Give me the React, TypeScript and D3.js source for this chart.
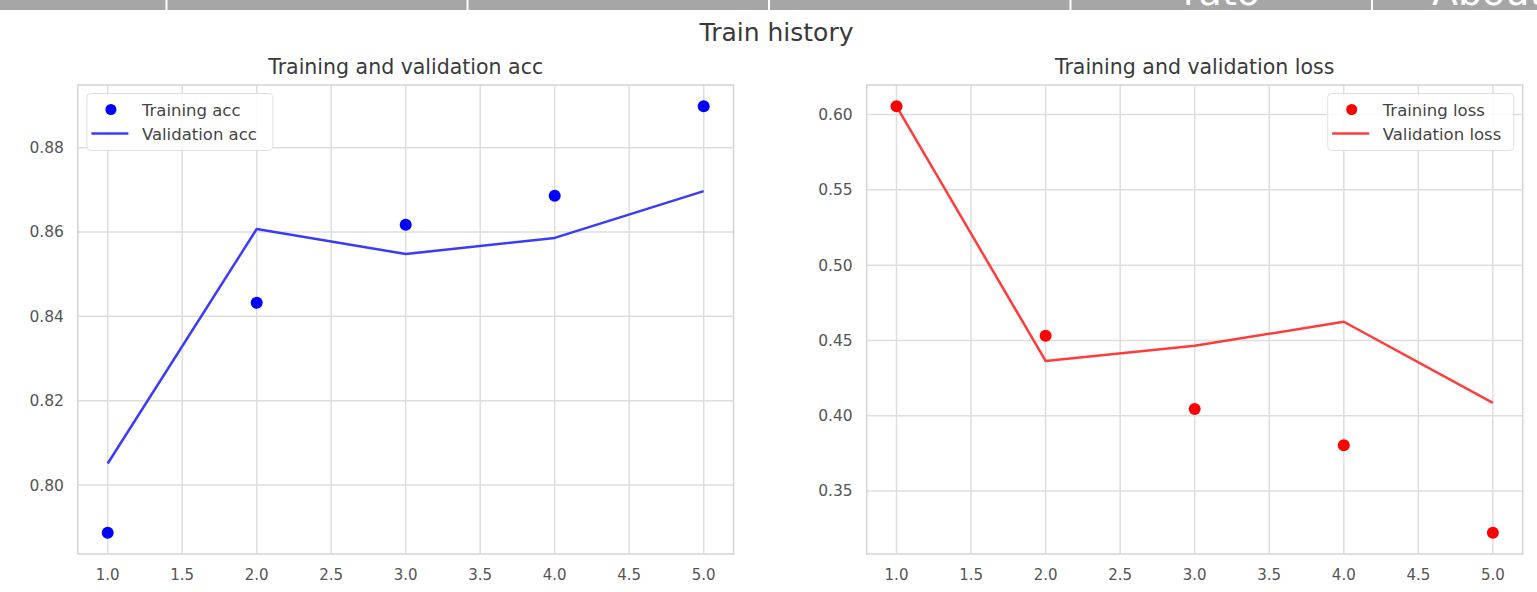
import React from "react";
import * as d3 from "d3";

const epochs = [1, 2, 3, 4, 5];
const trainAcc = [0.7887, 0.8432, 0.8617, 0.8686, 0.8898];
const valAcc = [0.8051, 0.8607, 0.8548, 0.8586, 0.8697];
const trainLoss = [0.6055, 0.4531, 0.4045, 0.3803, 0.3223];
const valLoss = [0.6055, 0.4364, 0.4464, 0.4624, 0.4085];
const xTicks = [1.0, 1.5, 2.0, 2.5, 3.0, 3.5, 4.0, 4.5, 5.0];
const accTicks = [0.8, 0.82, 0.84, 0.86, 0.88];
const lossTicks = [0.35, 0.4, 0.45, 0.5, 0.55, 0.6];
const navSeparators = [166.5, 467.5, 769, 1070.5, 1372];

const FONT = "'DejaVu Sans', sans-serif";

function pad(lo: number, hi: number): [number, number] {
  const m = (hi - lo) * 0.05;
  return [lo - m, hi + m];
}

type PanelProps = {
  left: number;
  right: number;
  top: number;
  bottom: number;
  title: string;
  train: number[];
  val: number[];
  yTicks: number[];
  dotColor: string;
  lineColor: string;
  trainLabel: string;
  valLabel: string;
  legendRight: boolean;
};

function Panel(p: PanelProps) {
  const all = [...p.train, ...p.val];
  const x = d3.scaleLinear().domain(pad(1, 5)).range([p.left, p.right]);
  const y = d3
    .scaleLinear()
    .domain(pad(d3.min(all)!, d3.max(all)!))
    .range([p.bottom, p.top]);
  const line = d3
    .line<number>()
    .x((_, i) => x(epochs[i]))
    .y((d) => y(d));
  const grid = "#dedede";
  const lw = 186;
  const lx = p.legendRight ? p.right - 9 - lw : p.left + 9;
  const ly = p.top + 8.5;
  return (
    <g>
      <rect x={p.left} y={p.top} width={p.right - p.left} height={p.bottom - p.top} fill="#fff" />
      {xTicks.map((t) => (
        <line key={"gx" + t} x1={x(t)} x2={x(t)} y1={p.top} y2={p.bottom} stroke={grid} strokeWidth={1.5} />
      ))}
      {p.yTicks.map((t) => (
        <line key={"gy" + t} x1={p.left} x2={p.right} y1={y(t)} y2={y(t)} stroke={grid} strokeWidth={1.5} />
      ))}
      <rect x={p.left} y={p.top} width={p.right - p.left} height={p.bottom - p.top} fill="none" stroke="#d4d4d4" strokeWidth={1.5} />
      {xTicks.map((t) => (
        <text key={"tx" + t} x={x(t)} y={p.bottom + 26} textAnchor="middle" fontSize={15} fill="#555" fontFamily={FONT}>
          {t.toFixed(1)}
        </text>
      ))}
      {p.yTicks.map((t) => (
        <text key={"ty" + t} x={p.left - 14} y={y(t) + 5.5} textAnchor="end" fontSize={15.5} fill="#555" fontFamily={FONT}>
          {t.toFixed(2)}
        </text>
      ))}
      <text x={(p.left + p.right) / 2} y={p.top - 11} textAnchor="middle" fontSize={20.5} fill="#3a3a3a" fontFamily={FONT}>
        {p.title}
      </text>
      <path d={line(p.val) || ""} fill="none" stroke={p.lineColor} strokeWidth={2.5} strokeLinejoin="round" />
      {p.train.map((v, i) => (
        <circle key={"d" + i} cx={x(epochs[i])} cy={y(v)} r={6} fill={p.dotColor} />
      ))}
      <rect x={lx} y={ly} width={lw} height={57} rx={4} fill="rgba(255,255,255,0.85)" stroke="#e0e0e0" strokeWidth={1} />
      <circle cx={lx + 24} cy={ly + 16} r={5.5} fill={p.dotColor} />
      <line x1={lx + 4.5} x2={lx + 41.5} y1={ly + 40} y2={ly + 40} stroke={p.lineColor} strokeWidth={2.5} />
      <text x={lx + 55} y={ly + 22} fontSize={16.5} fill="#444" fontFamily={FONT}>
        {p.trainLabel}
      </text>
      <text x={lx + 55} y={ly + 46} fontSize={16.5} fill="#444" fontFamily={FONT}>
        {p.valLabel}
      </text>
    </g>
  );
}

export default function App() {
  return (
    <svg
      width={1537}
      height={592}
      style={{ position: "fixed", left: 0, top: 0, background: "#fff" }}
    >
      <defs>
        <clipPath id="navclip">
          <rect x={0} y={0} width={1537} height={10} />
        </clipPath>
      </defs>
      <g clipPath="url(#navclip)">
        <rect x={0} y={0} width={1537} height={10} fill="#a6a6a6" />
        {navSeparators.map((s) => (
          <line key={s} x1={s} x2={s} y1={0} y2={10} stroke="#fff" strokeWidth={2} />
        ))}
        <text x={1183} y={5} fontSize={38} fill="#fff" fontFamily={FONT}>rato</text>
        <text x={1432} y={5} fontSize={38} fill="#fff" fontFamily={FONT}>About</text>
      </g>
      <text x={776.5} y={41} textAnchor="middle" fontSize={25} fill="#3a3a3a" fontFamily={FONT}>
        Train history
      </text>
      <Panel
        left={77.9}
        right={733.5}
        top={85}
        bottom={554}
        title="Training and validation acc"
        train={trainAcc}
        val={valAcc}
        yTicks={accTicks}
        dotColor="#0000ff"
        lineColor="#3b3bff"
        trainLabel="Training acc"
        valLabel="Validation acc"
        legendRight={false}
      />
      <Panel
        left={866.7}
        right={1522.7}
        top={85}
        bottom={554}
        title="Training and validation loss"
        train={trainLoss}
        val={valLoss}
        yTicks={lossTicks}
        dotColor="#ff0000"
        lineColor="#ff3b3b"
        trainLabel="Training loss"
        valLabel="Validation loss"
        legendRight={true}
      />
    </svg>
  );
}
